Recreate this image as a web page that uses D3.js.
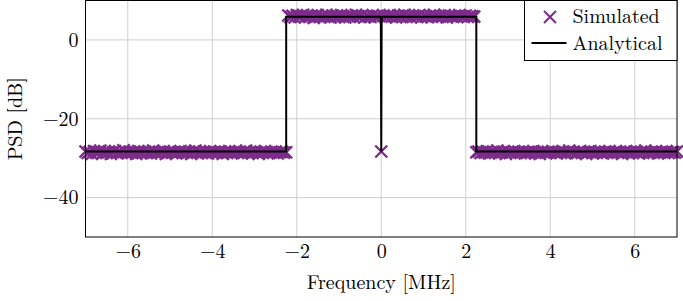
<!DOCTYPE html>
<html>
<head>
<meta charset="utf-8">
<script src="https://cdn.jsdelivr.net/npm/d3@7"></script>
</head>
<body style="margin:0;background:#fff">
<div id="chart"></div>
<script>
// simulated PSD, sampled on a 0.05 MHz grid starting at -7 MHz
var simFreqStart = -7, simFreqStep = 0.05;
var simLowLeft = [
  -28.3,-28.7,-28.4,-28.9,-28.2,-28.6,-28.5,-28.1,-28.8,-28.4,
  -28.6,-28.3,-28.9,-28.5,-28.2,-28.7,-28.4,-28.6,-28.0,-28.5,
  -28.8,-28.3,-28.6,-28.4,-28.9,-28.2,-28.5,-28.7,-28.3,-28.6,
  -28.4,-28.8,-28.1,-28.5,-28.7,-28.4,-28.6,-28.2,-28.9,-28.5,
  -28.3,-28.6,-28.4,-28.8,-28.5,-28.2,-28.7,-28.4,-28.6,-28.3,
  -28.9,-28.5,-28.1,-28.6,-28.4,-28.7,-28.3,-28.5,-28.8,-28.2,
  -28.6,-28.4,-28.7,-28.5,-28.3,-28.9,-28.4,-28.6,-28.2,-28.5,
  -28.7,-28.3,-28.6,-28.4,-28.8,-28.5,-28.1,-28.6,-28.4,-28.7,
  -28.3,-28.5,-28.9,-28.4,-28.6,-28.2,-28.5,-28.7,-28.4,-28.6,
  -28.3,-28.8,-28.5,-28.4,-28.6,-28.5
];
var simInBand = [
  6.2,5.8,6.1,5.7,6.3,5.9,6.0,6.4,5.8,6.1,
  5.9,6.2,5.6,6.0,6.3,5.8,6.1,5.9,6.4,6.0,
  5.7,6.2,5.9,6.1,5.8,6.3,6.0,5.7,6.2,5.9,
  6.1,5.8,6.4,6.0,5.9,6.2,5.7,6.1,6.0,5.8,
  6.3,5.9,6.1,6.0,-28.3,6.2,5.8,6.0,6.3,5.9,
  6.1,5.7,6.2,6.0,5.8,6.4,5.9,6.1,5.8,6.2,
  6.0,5.9,6.3,5.7,6.1,6.0,5.8,6.2,5.9,6.4,
  6.0,5.8,6.1,5.9,6.3,5.7,6.2,6.0,5.9,6.1,
  5.8,6.3,6.0,5.9,6.2,5.8,6.1,6.0,5.9
];
var simLowRight = [
  -28.5,-28.3,-28.7,-28.4,-28.6,-28.2,-28.8,-28.5,-28.4,-28.6,
  -28.1,-28.7,-28.5,-28.3,-28.9,-28.4,-28.6,-28.5,-28.2,-28.7,
  -28.4,-28.6,-28.3,-28.8,-28.5,-28.4,-28.7,-28.2,-28.6,-28.5,
  -28.9,-28.3,-28.5,-28.6,-28.4,-28.7,-28.2,-28.5,-28.8,-28.4,
  -28.6,-28.3,-28.5,-28.7,-28.1,-28.6,-28.4,-28.8,-28.5,-28.3,
  -28.6,-28.4,-28.9,-28.5,-28.2,-28.7,-28.4,-28.6,-28.3,-28.5,
  -28.8,-28.4,-28.6,-28.2,-28.7,-28.5,-28.3,-28.6,-28.4,-28.9,
  -28.5,-28.2,-28.6,-28.4,-28.7,-28.3,-28.5,-28.8,-28.4,-28.6,
  -28.1,-28.5,-28.7,-28.4,-28.6,-28.3,-28.8,-28.5,-28.4,-28.6,
  -28.2,-28.7,-28.5,-28.4,-28.6,-28.3
];

// analytical PSD breakpoints
var anaFreq = [-7, -2.25, -2.25, -0.01, 0, 0.01, 2.25, 2.25, 7];
var anaPsd  = [-28.3, -28.3, 5.9, 5.9, -28.3, 5.9, 5.9, -28.3, -28.3];

var xTicks = [-6, -4, -2, 0, 2, 4, 6];
var yTicks = [-40, -20, 0];
var legendLabels = ["Simulated", "Analytical"];

var FONT = "'Latin Modern Roman', 'Liberation Serif', serif";
var purple = "#7d2b8b";
var W = 683, H = 301;
var margin = {top: 0.5, right: 6, bottom: 64, left: 85.5};
var width = W - margin.left - margin.right;
var height = H - margin.top - margin.bottom;

var svg = d3.select("#chart").append("svg")
  .attr("width", W)
  .attr("height", H)
  .style("font-family", FONT);
var g = svg.append("g")
  .attr("transform", "translate(" + margin.left + "," + margin.top + ")");

var x = d3.scaleLinear().domain([-7, 7]).range([0, width]);
var y = d3.scaleLinear().domain([-50, 10]).range([height, 0]);

var simPsd = simLowLeft.concat(simInBand, simLowRight);
var simData = simPsd.map(function(v, i) {
  return {f: simFreqStart + i * simFreqStep, p: v};
});
var anaData = anaFreq.map(function(f, i) { return {f: f, p: anaPsd[i]}; });

// grid
g.selectAll(".gx").data(xTicks).enter().append("line")
  .attr("x1", function(d) { return x(d); }).attr("x2", function(d) { return x(d); })
  .attr("y1", 0).attr("y2", height)
  .attr("stroke", "#cfcfcf").attr("stroke-width", 1);
g.selectAll(".gy").data(yTicks).enter().append("line")
  .attr("y1", function(d) { return y(d); }).attr("y2", function(d) { return y(d); })
  .attr("x1", 0).attr("x2", width)
  .attr("stroke", "#cfcfcf").attr("stroke-width", 1);

function fmt(d) { return d < 0 ? "\u2212" + Math.abs(d) : d; }

// axes (labels only, frame drawn below)
var xAxis = g.append("g")
  .attr("transform", "translate(0," + height + ")")
  .call(d3.axisBottom(x).tickValues(xTicks).tickSize(0).tickPadding(7).tickFormat(fmt));
xAxis.select(".domain").remove();
xAxis.selectAll("text").style("font-size", "20px").style("font-family", FONT);

var yAxis = g.append("g")
  .call(d3.axisLeft(y).tickValues(yTicks).tickSize(0).tickPadding(7).tickFormat(fmt));
yAxis.select(".domain").remove();
yAxis.selectAll("text").style("font-size", "20px").style("font-family", FONT);

// simulated markers
function cross(s) {
  return "M" + (-s) + "," + (-s) + "L" + s + "," + s + "M" + (-s) + "," + s + "L" + s + "," + (-s);
}
g.append("g").selectAll("path").data(simData).enter().append("path")
  .attr("transform", function(d) { return "translate(" + x(d.f) + "," + y(d.p) + ")"; })
  .attr("d", cross(6))
  .attr("fill", "none")
  .attr("stroke", purple)
  .attr("stroke-width", 2.3);

// analytical line
var line = d3.line().x(function(d) { return x(d.f); }).y(function(d) { return y(d.p); });
g.append("path").datum(anaData)
  .attr("d", line)
  .attr("fill", "none")
  .attr("stroke", "#000")
  .attr("stroke-width", 2);

// frame
g.append("rect")
  .attr("width", width).attr("height", height)
  .attr("fill", "none").attr("stroke", "#000").attr("stroke-width", 1);

// axis titles
svg.append("text")
  .attr("x", margin.left + width / 2).attr("y", 289)
  .attr("text-anchor", "middle").style("font-size", "20px").style("font-family", FONT)
  .text("Frequency [MHz]");
svg.append("text")
  .attr("transform", "translate(22," + (margin.top + height / 2) + ") rotate(-90)")
  .attr("text-anchor", "middle").style("font-size", "20px").style("font-family", FONT)
  .text("PSD [dB]");

// legend
var lg = svg.append("g").attr("transform", "translate(524.5,0.5)");
lg.append("rect").attr("width", width + margin.left - 524.5).attr("height", 60)
  .attr("fill", "#fff").attr("stroke", "#000").attr("stroke-width", 1);
lg.append("path").attr("transform", "translate(25.5,16.5)").attr("d", cross(6))
  .attr("fill", "none").attr("stroke", purple).attr("stroke-width", 2);
lg.append("line").attr("x1", 7).attr("x2", 42).attr("y1", 42.5).attr("y2", 42.5)
  .attr("stroke", "#000").attr("stroke-width", 2);
lg.selectAll(".lt").data(legendLabels).enter().append("text")
  .attr("x", 48).attr("y", function(d, i) { return 22.5 + i * 26.5; })
  .style("font-size", "20px").style("font-family", FONT)
  .text(function(d) { return d; });
</script>
</body>
</html>
